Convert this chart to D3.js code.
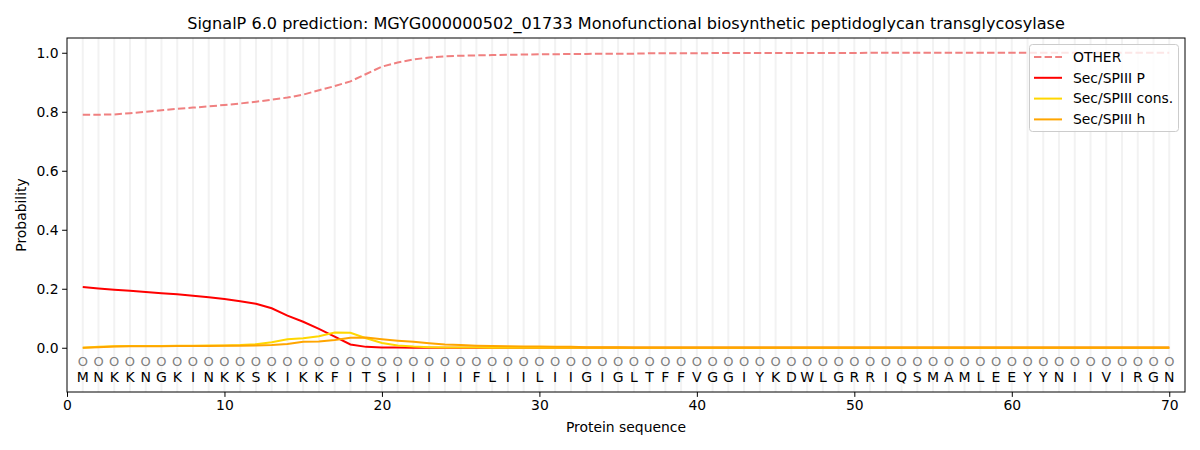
<!DOCTYPE html>
<html><head><meta charset="utf-8">
<script src="https://cdn.jsdelivr.net/npm/d3@7"></script>
<style>body{margin:0;background:#fff;font-family:"DejaVu Sans",sans-serif;}</style>
</head><body><svg id="c" width="1200" height="450"></svg>
<script>
const title = "SignalP 6.0 prediction: MGYG000000502_01733 Monofunctional biosynthetic peptidoglycan transglycosylase";
const sequence = "MNKKNGKINKKSKIKKFITSIIIIIFLIILIIGIGLTFFVGGIYKDWLGRRIQSMAMLEEYYNIIVIRGN".split("");
const otherVals = [0.790,0.790,0.791,0.795,0.800,0.805,0.810,0.814,0.818,0.823,0.828,0.834,0.841,0.848,0.858,0.873,0.887,0.903,0.928,0.953,0.967,0.977,0.984,0.988,0.990,0.991,0.992,0.993,0.994,0.995,0.995,0.996,0.996,0.997,0.997,0.997,0.998,0.998,0.998,0.998,0.999,0.999,0.999,0.999,0.999,0.999,0.999,0.999,0.999,0.999,1,1,1,1,1,1,1,1,1,1,1,1,1,1,1,1,1,1,1,1];
const secPVals = [0.206,0.201,0.197,0.193,0.189,0.185,0.181,0.176,0.171,0.165,0.158,0.149,0.134,0.109,0.088,0.064,0.038,0.011,0.003,0.001,0.0005,0.0003,0.0002,0.0001,0,0,0,0,0,0,0,0,0,0,0,0,0,0,0,0,0,0,0,0,0,0,0,0,0,0,0,0,0,0,0,0,0,0,0,0,0,0,0,0,0,0,0,0,0,0];
const consVals = [0.000,0.003,0.005,0.006,0.006,0.006,0.007,0.007,0.008,0.008,0.009,0.012,0.019,0.029,0.032,0.039,0.052,0.051,0.032,0.016,0.008,0.004,0.002,0.001,0.001,0.0005,0.0003,0.0002,0.0001,0,0,0,0,0,0,0,0,0,0,0,0,0,0,0,0,0,0,0,0,0,0,0,0,0,0,0,0,0,0,0,0,0,0,0,0,0,0,0,0,0];
const hVals = [0.000,0.002,0.004,0.005,0.005,0.005,0.006,0.006,0.006,0.007,0.007,0.008,0.009,0.013,0.020,0.021,0.026,0.034,0.035,0.029,0.024,0.020,0.015,0.011,0.009,0.007,0.006,0.005,0.004,0.004,0.003,0.003,0.002,0.002,0.002,0.001,0.001,0.001,0.001,0.001,0.001,0.001,0.001,0.001,0.001,0.001,0.001,0.001,0.001,0.001,0.001,0.001,0.001,0.001,0.001,0.001,0.001,0.001,0.001,0.001,0.001,0.001,0.001,0.001,0.001,0.001,0.001,0.001,0.001,0.001];
const xTicks = [0,10,20,30,40,50,60,70];
const yTicks = [0.0,0.2,0.4,0.6,0.8,1.0];
const seriesNames = ["OTHER","Sec/SPIII P","Sec/SPIII cons.","Sec/SPIII h"];
const seriesColors = ["#f08080","#ff0000","#ffd700","#ffa500"];

const svg = d3.select("#c");
const L=67,R=1185,T=38,B=392;
const x = d3.scaleLinear().domain([0,71]).range([L,R]);
const y = d3.scaleLinear().domain([-0.15,1.05]).range([B,T]);
const pos = d3.range(1, sequence.length+1);

// grid
svg.append("g").selectAll("line").data(pos).join("line")
  .attr("x1",d=>x(d)).attr("x2",d=>x(d)).attr("y1",T).attr("y2",B)
  .attr("stroke","#f2f2f2").attr("stroke-width",2);

// circles & letters
svg.append("g").selectAll("text").data(pos).join("text")
  .attr("x",d=>x(d)).attr("y",y(-0.0445)).attr("dy","0.36em")
  .attr("text-anchor","middle").attr("font-size",13).attr("fill","#808080").text("O");
svg.append("g").selectAll("text").data(sequence).join("text")
  .attr("x",(d,i)=>x(i+1)).attr("y",y(-0.1)).attr("dy","0.36em")
  .attr("text-anchor","middle").attr("font-size",14).attr("fill","#000").text(d=>d);

const line = d3.line().x((d,i)=>x(i+1)).y(d=>y(d));
const allVals = [otherVals, secPVals, consVals, hVals];
allVals.forEach((vals,k)=>{
  svg.append("path").datum(vals).attr("d",line).attr("fill","none")
    .attr("stroke",seriesColors[k]).attr("stroke-width",2)
    .attr("stroke-dasharray",k===0?"7.4,3.2":null);
});

// axes
const xa = svg.append("g").attr("transform",`translate(0,${B})`)
  .call(d3.axisBottom(x).tickValues(xTicks).tickFormat(d3.format("d")).tickSize(4.9).tickPadding(3.5));
const ya = svg.append("g").attr("transform",`translate(${L},0)`)
  .call(d3.axisLeft(y).tickValues(yTicks).tickFormat(d3.format(".1f")).tickSize(4.9).tickPadding(3.5));
[xa,ya].forEach(a=>{a.selectAll("text").attr("font-size",13.9).attr("font-family","DejaVu Sans").attr("fill","#000");
  a.selectAll("line").attr("stroke","#000"); a.select(".domain").remove();});
svg.append("rect").attr("x",L).attr("y",T).attr("width",R-L).attr("height",B-T)
  .attr("fill","none").attr("stroke","#000").attr("stroke-width",1);

svg.append("text").attr("x",(L+R)/2).attr("y",29).attr("text-anchor","middle")
  .attr("font-size",16.1).text(title);
svg.append("text").attr("x",(L+R)/2).attr("y",432).attr("text-anchor","middle")
  .attr("font-size",13.9).text("Protein sequence");
svg.append("text").attr("transform",`translate(26,${(T+B)/2}) rotate(-90)`).attr("text-anchor","middle")
  .attr("font-size",13.9).text("Probability");

// legend
const lg = svg.append("g");
lg.append("rect").attr("x",1029.5).attr("y",44.5).attr("width",149).attr("height",87).attr("rx",3)
  .attr("fill","#fff").attr("fill-opacity",0.8).attr("stroke","#ccc");
seriesNames.forEach((n,k)=>{
  const yy = 57 + k*20.8;
  lg.append("line").attr("x1",1034).attr("x2",1062).attr("y1",yy).attr("y2",yy)
    .attr("stroke",seriesColors[k]).attr("stroke-width",2).attr("stroke-dasharray",k===0?"7.4,3.2":null);
  lg.append("text").attr("x",1073).attr("y",yy).attr("dy","0.35em").attr("font-size",13.9).text(n);
});
</script></body></html>
